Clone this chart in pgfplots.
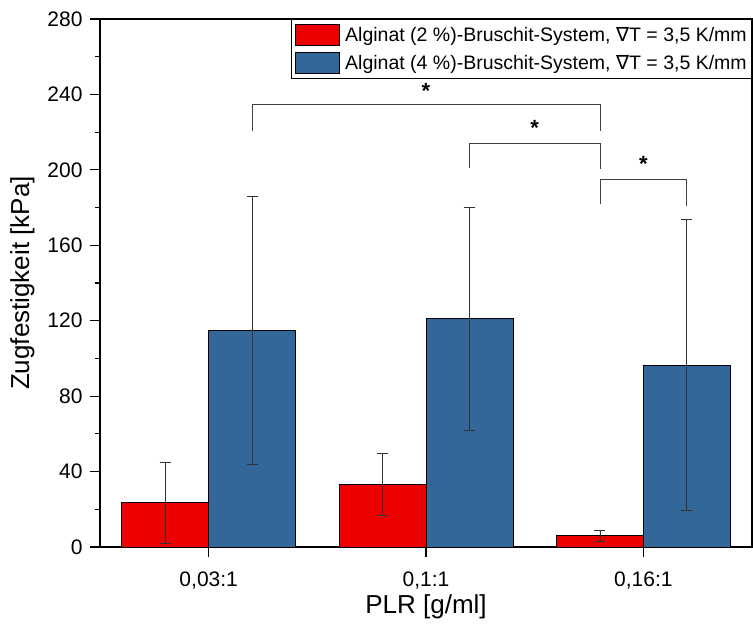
\documentclass[border=0pt]{standalone}
\usepackage{fontspec}
\setmainfont{Liberation Sans}
\newfontfamily\dejavu{DejaVu Sans}
\usepackage{pgfplots}
\pgfplotsset{compat=1.18}
\definecolor{redbar}{RGB}{237,0,0}
\definecolor{bluebar}{RGB}{51,102,153}

\pgfplotstableread{
x  y     err
0  23.5  21.3
1  33.2  16.6
2  6.0   2.9
}\redtab
\pgfplotstableread{
x  y     err
0  115.0 70.9
1  121.0 59.2
2  96.5  77.0
}\bluetab

\begin{document}
\begin{tikzpicture}
\begin{axis}[
    scale only axis, width=652pt, height=528pt,
    xmin=-0.5, xmax=2.5, ymin=0, ymax=280,
    ybar=0pt, bar width=0.4,
    xtick={0,1,2}, xticklabels={{0,03:1},{0,1:1},{0,16:1}},
    ytick={0,40,...,280}, minor y tick num=1,
    tick pos=left, tick align=outside,
    major tick length=10pt, minor tick length=5pt,
    every tick/.style={black, line width=1.2pt},
    axis line style={line width=1.3pt},
    /pgf/number format/assume math mode=true,
    tick label style={font=\fontsize{21}{24}\selectfont},
    yticklabel style={xshift=-4pt},
    xticklabel style={yshift=-11pt},
    xlabel={PLR [g/ml]}, ylabel={Zugfestigkeit [kPa]},
    label style={font=\fontsize{26}{30}\selectfont},
    xlabel style={yshift=1pt},
    ylabel style={yshift=6pt},
    legend style={at={(1,1)}, anchor=north east, draw=black, line width=0.6pt,
        font=\fontsize{19.5}{23}\selectfont, row sep=6pt, inner xsep=3pt, inner ysep=5pt},
    legend cell align=left,
    legend image code/.code={\draw[#1, draw=black, line width=0.6pt] (0pt,-10.5pt) rectangle (44pt,10.5pt);},
    error bars/error bar style={line width=0.7pt, black!80},
    error bars/error mark options={rotate=90, mark size=5.5pt, line width=0.7pt, black!80},
]
\addplot[fill=redbar, draw=black, line width=0.8pt,
    error bars/.cd, y dir=both, y explicit]
    table[x=x, y=y, y error=err] {\redtab};
\addlegendentry{\hspace{4pt}Alginat (2 \%)-Bruschit-System, {\dejavu ∇}T = 3,5 K/mm}
\addplot[fill=bluebar, draw=black, line width=0.8pt,
    error bars/.cd, y dir=both, y explicit]
    table[x=x, y=y, y error=err] {\bluetab};
\addlegendentry{\hspace{4pt}Alginat (4 \%)-Bruschit-System, {\dejavu ∇}T = 3,5 K/mm}

% significance brackets
\draw[line width=0.7pt, black!75] (axis cs:0.2,220.7) -- (axis cs:0.2,234.9) -- (axis cs:1.8,234.9) -- (axis cs:1.8,220.7);
\draw[line width=0.7pt, black!75] (axis cs:1.2,201.0) -- (axis cs:1.2,214.2) -- (axis cs:1.8,214.2) -- (axis cs:1.8,200.4);
\draw[line width=0.7pt, black!75] (axis cs:1.8,182.0) -- (axis cs:1.8,195.0) -- (axis cs:2.2,195.0) -- (axis cs:2.2,181.0);
\node[font=\fontsize{22}{24}\selectfont\bfseries] at (axis cs:1.0,242) {*};
\node[font=\fontsize{22}{24}\selectfont\bfseries] at (axis cs:1.5,222) {*};
\node[font=\fontsize{22}{24}\selectfont\bfseries] at (axis cs:2.0,203) {*};

\coordinate (bl) at (rel axis cs:-0.1534,-0.1591);
\coordinate (tr) at (rel axis cs:1.0015,1.036);
\end{axis}
\pgfresetboundingbox
\path (bl) rectangle (tr);
\end{tikzpicture}
\end{document}
